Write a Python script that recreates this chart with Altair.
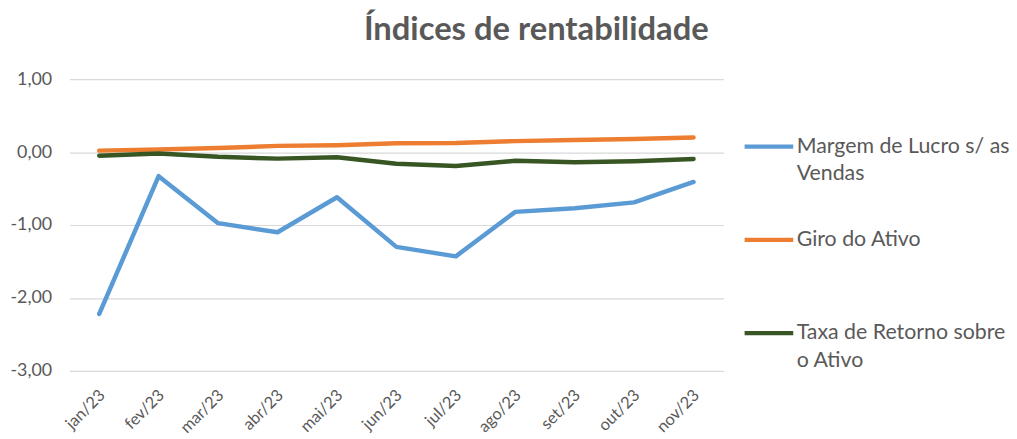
import altair as alt
import pandas as pd

months = ["jan/23", "fev/23", "mar/23", "abr/23", "mai/23", "jun/23",
          "jul/23", "ago/23", "set/23", "out/23", "nov/23"]
margem = [-2.22, -0.33, -0.975, -1.10, -0.62, -1.30, -1.43, -0.82, -0.77, -0.69, -0.41]
giro = [0.02, 0.035, 0.055, 0.085, 0.095, 0.12, 0.125, 0.15, 0.165, 0.18, 0.20]
taxa = [-0.05, -0.02, -0.065, -0.09, -0.07, -0.16, -0.19, -0.12, -0.14, -0.125, -0.095]
series = ["Margem de Lucro s/ as Vendas", "Giro do Ativo", "Taxa de Retorno sobre o Ativo"]
colors = ["#5B9BD5", "#ED7D31", "#375623"]
y_ticks = [-3, -2, -1, 0, 1]

rows = []
for name, vals in zip(series, [margem, giro, taxa]):
    for m, v in zip(months, vals):
        rows.append({"mes": m, "valor": v, "serie": name})
df = pd.DataFrame(rows)

FONT = "Lato"
GRAY = "#595959"

label_expr = ("datum.label == 'Margem de Lucro s/ as Vendas' ? ['Margem de Lucro s/ as', 'Vendas'] : "
              "datum.label == 'Taxa de Retorno sobre o Ativo' ? ['Taxa de Retorno sobre', 'o Ativo'] : "
              "[datum.label, '']")

chart = alt.Chart(df).mark_line(strokeWidth=4.5, strokeCap="round", strokeJoin="round").encode(
    x=alt.X("mes:N", sort=months, scale=alt.Scale(type="point", padding=0.5),
            axis=alt.Axis(title=None, labelAngle=-45, labelFontSize=16.5, labelColor=GRAY,
                          labelFont=FONT, domain=False, ticks=False, grid=False,
                          labelPadding=16, labelOffset=-3)),
    y=alt.Y("valor:Q", scale=alt.Scale(domain=[-3, 1], nice=False),
            axis=alt.Axis(title=None, values=y_ticks,
                          labelExpr="replace(replace(format(datum.value, '.2f'), '.', ','), '\u2212', '-')",
                          domain=False, ticks=False, gridColor="#d9d9d9", gridWidth=1.2,
                          labelFontSize=18, labelColor=GRAY, labelFont=FONT, labelPadding=18)),
    color=alt.Color("serie:N", sort=series, scale=alt.Scale(domain=series, range=colors),
                    legend=alt.Legend(title=None, orient="none", legendX=678, legendY=41,
                                      symbolType="stroke", symbolStrokeWidth=4.5, symbolSize=2401,
                                      labelFont=FONT, labelFontSize=21.5, labelColor=GRAY,
                                      labelOffset=1, labelLimit=300, rowPadding=28,
                                      labelExpr=label_expr)),
).properties(
    width=659, height=294,
    autosize=alt.AutoSizeParams(type="none"),
    padding={"left": 62, "top": 70, "right": 288, "bottom": 67},
    title=alt.TitleParams("Índices de rentabilidade", font=FONT, fontSize=33, fontWeight="bold",
                          color=GRAY, anchor="middle", frame="group", dx=141, offset=23),
).configure(style={"guide-label": {"lineHeight": 28}}).configure_view(stroke=None)

chart.save("out.html", embed_options={"renderer": "svg", "actions": False})
